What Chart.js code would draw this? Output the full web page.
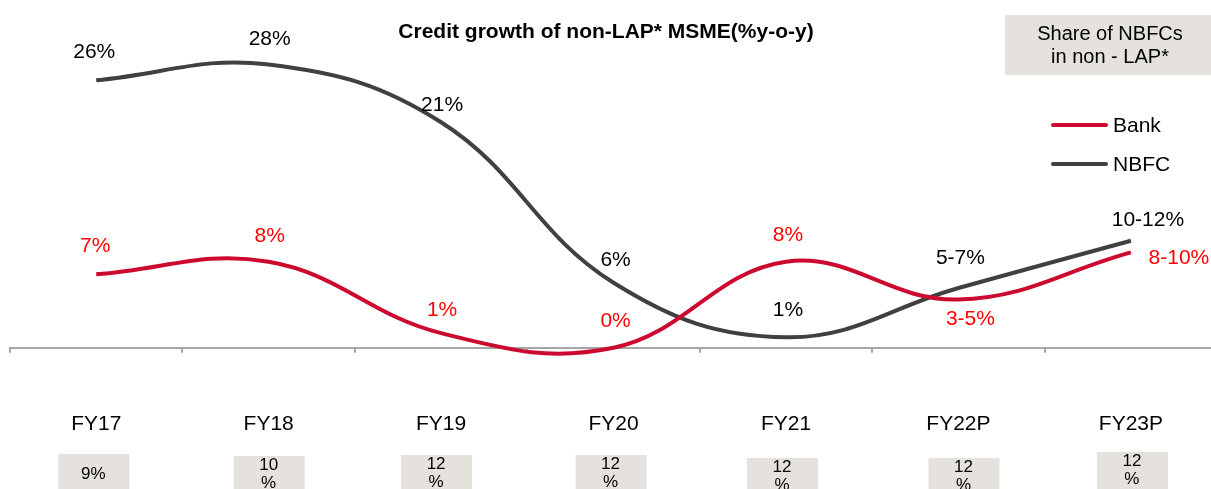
<!DOCTYPE html>
<html lang="en">
<head>
<meta charset="UTF-8">
<title>Credit growth of non-LAP* MSME</title>
<script src="https://cdn.jsdelivr.net/npm/chart.js@4.4.0/dist/chart.umd.min.js"></script>
<style>
  html, body { margin: 0; padding: 0; background: #fff; }
  #wrap { position: relative; width: 1211px; height: 489px; overflow: hidden; }
</style>
</head>
<body>
<div id="wrap"><canvas id="myChart" width="1222" height="496"></canvas></div>
<script>
// data (% y-o-y)
const years = ['FY17', 'FY18', 'FY19', 'FY20', 'FY21', 'FY22P', 'FY23P'];
const bank = [7, 8.2, 1.4, 0, 8.2, 4.6, 9.1];
const nbfc = [25.5, 27, 21.5, 6.2, 1, 5.7, 10.2];
const bankLabels = ['7%', '8%', '1%', '0%', '8%', '3-5%', '8-10%'];
const nbfcLabels = ['26%', '28%', '21%', '6%', '1%', '5-7%', '10-12%'];
// share of NBFCs in non-LAP (grey boxes under the axis)
const nbfcShare = ['9%', '10 %', '12 %', '12 %', '12 %', '12 %', '12 %'];

// label offsets from the point, px
const bankLabelPos = [[-1, -28], [1, -26], [1, -23], [2, -27], [2, -27], [12, 20], [48, 6]];
const nbfcLabelPos = [[-2, -28], [1, -25], [1, -17], [2, -23], [2, -27], [2, -30], [17, -21]];
const shareBoxDx = [-3, 0, -5, -3, -4, 5, 1];
const shareBoxDy = [0, 2, 1, 1, 4, 4, -2];

const FONT = "'Liberation Sans', Arial, sans-serif";
const RED_LINE = '#cc0a2f';
const RED_TEXT = '#ff0000';
const DARK = '#404040';
const BOX = '#e5e2de';

const extras = {
    id: 'extras',
    afterDatasetsDraw(chart) {
        const ctx = chart.ctx;
        const x = chart.scales.x, y = chart.scales.y;
        ctx.save();

        // title
        ctx.fillStyle = '#000';
        ctx.font = 'bold 21px ' + FONT;
        ctx.textAlign = 'center';
        ctx.textBaseline = 'middle';
        ctx.fillText('Credit growth of non-LAP* MSME(%y-o-y)', 606, 32);

        // point labels
        ctx.font = '21px ' + FONT;
        bank.forEach(function (v, i) {
            ctx.fillStyle = RED_TEXT;
            ctx.fillText(bankLabels[i], x.getPixelForValue(i) + bankLabelPos[i][0], y.getPixelForValue(v) + bankLabelPos[i][1]);
        });
        nbfc.forEach(function (v, i) {
            ctx.fillStyle = '#000';
            ctx.fillText(nbfcLabels[i], x.getPixelForValue(i) + nbfcLabelPos[i][0], y.getPixelForValue(v) + nbfcLabelPos[i][1]);
        });

        // box "Share of NBFCs in non - LAP*"
        ctx.fillStyle = BOX;
        ctx.fillRect(1005, 15, 206, 60);
        ctx.fillStyle = '#000';
        ctx.font = '20px ' + FONT;
        ctx.fillText('Share of NBFCs', 1110, 34);
        ctx.fillText('in non - LAP*', 1110, 57);

        // legend
        chart.data.datasets.forEach(function (ds, i) {
            const ly = 125 + i * 39;
            ctx.strokeStyle = ds.borderColor;
            ctx.lineWidth = 4;
            ctx.lineCap = 'round';
            ctx.beginPath();
            ctx.moveTo(1053, ly);
            ctx.lineTo(1106, ly);
            ctx.stroke();
            ctx.fillStyle = '#000';
            ctx.textAlign = 'left';
            ctx.font = '21px ' + FONT;
            ctx.fillText(ds.label, 1113, ly + 1);
        });

        // share boxes under the axis
        ctx.textAlign = 'center';
        ctx.font = '17px ' + FONT;
        nbfcShare.forEach(function (s, i) {
            const cx = x.getPixelForValue(i) + shareBoxDx[i];
            const top = 454 + shareBoxDy[i];
            ctx.fillStyle = BOX;
            ctx.fillRect(cx - 35, top, 71, 40);
            ctx.fillStyle = '#000';
            const lines = s.split(' ');
            if (lines.length === 1) {
                ctx.fillText(lines[0], cx, top + 20);
            } else {
                ctx.fillText(lines[0], cx, top + 9);
                ctx.fillText(lines[1], cx, top + 27);
            }
        });
        ctx.restore();
    }
};

const myChart = new Chart(document.getElementById('myChart'), {
    type: 'line',
    data: {
        labels: years,
        datasets: [
            {
                label: 'Bank',
                data: bank,
                borderColor: RED_LINE,
                borderWidth: 4,
                pointRadius: 0,
                tension: 0.4,
                capBezierPoints: false,
                clip: false
            },
            {
                label: 'NBFC',
                data: nbfc,
                borderColor: DARK,
                borderWidth: 4,
                pointRadius: 0,
                tension: 0.4,
                capBezierPoints: false,
                clip: false
            }
        ]
    },
    options: {
        responsive: false,
        animation: false,
        devicePixelRatio: 1,
        layout: { padding: { left: 10, right: 0, top: 33, bottom: 0 } },
        plugins: {
            legend: { display: false },
            tooltip: { enabled: false },
            title: { display: false }
        },
        scales: {
            x: {
                offset: true,
                border: { display: true, color: '#a6a6a6', width: 2 },
                grid: {
                    offset: true,
                    drawOnChartArea: false,
                    drawTicks: true,
                    tickLength: 5,
                    color: '#a6a6a6',
                    lineWidth: 2
                },
                ticks: {
                    color: '#000',
                    padding: 59,
                    maxRotation: 0,
                    font: { family: FONT, size: 21 }
                }
            },
            y: {
                display: false,
                min: 0,
                max: 30
            }
        }
    },
    plugins: [extras]
});
</script>
</body>
</html>
